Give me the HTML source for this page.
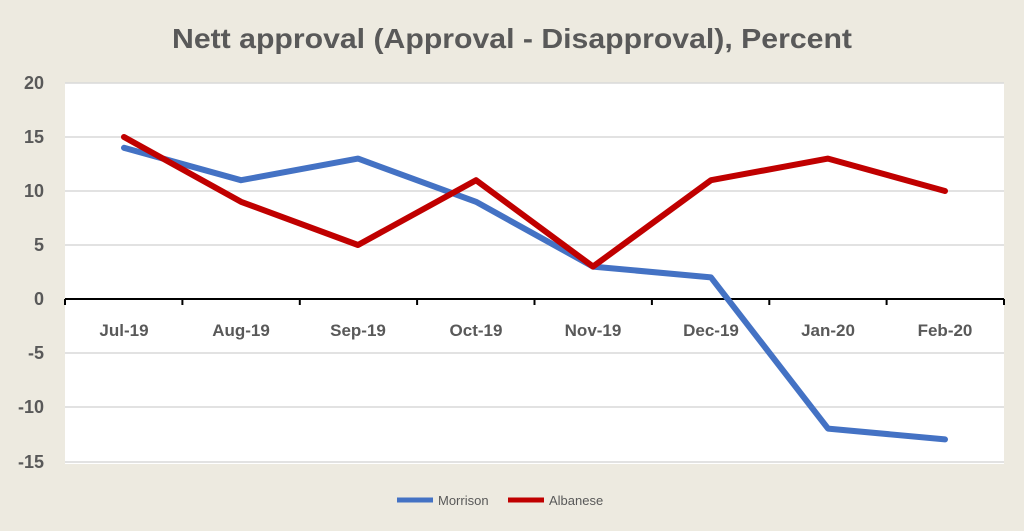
<!DOCTYPE html>
<html><head><style>body{margin:0;background:#EDEAE0;}svg{display:block}</style></head>
<body>
<svg width="1024" height="531" xmlns="http://www.w3.org/2000/svg" font-family="Liberation Sans, sans-serif">
<rect width="1024" height="531" fill="#EDEAE0"/>
<rect x="65" y="83" width="939" height="381" fill="#fff"/>
<g stroke="#D9D9D9" stroke-width="1.5">
<line x1="65" x2="1004" y1="83" y2="83"/>
<line x1="65" x2="1004" y1="137" y2="137"/>
<line x1="65" x2="1004" y1="191" y2="191"/>
<line x1="65" x2="1004" y1="245" y2="245"/>
<line x1="65" x2="1004" y1="353" y2="353"/>
<line x1="65" x2="1004" y1="407" y2="407"/>
<line x1="65" x2="1004" y1="462" y2="462"/>
</g>
<text x="512" y="48" text-anchor="middle" font-size="28" font-weight="bold" fill="#595959" textLength="680" lengthAdjust="spacingAndGlyphs">Nett approval (Approval - Disapproval), Percent</text>
<g font-size="18" font-weight="bold" fill="#595959" text-anchor="end">
<text x="44" y="89">20</text><text x="44" y="143">15</text><text x="44" y="197">10</text><text x="44" y="251">5</text><text x="44" y="305">0</text><text x="44" y="359">-5</text><text x="44" y="413">-10</text><text x="44" y="468">-15</text>
</g>
<g stroke="#000" stroke-width="2">
<line x1="65" x2="1004" y1="299" y2="299"/>
<line x1="65" x2="65" y1="299" y2="305"/><line x1="182.4" x2="182.4" y1="299" y2="305"/><line x1="299.8" x2="299.8" y1="299" y2="305"/><line x1="417.1" x2="417.1" y1="299" y2="305"/><line x1="534.5" x2="534.5" y1="299" y2="305"/><line x1="651.9" x2="651.9" y1="299" y2="305"/><line x1="769.3" x2="769.3" y1="299" y2="305"/><line x1="886.6" x2="886.6" y1="299" y2="305"/><line x1="1004" x2="1004" y1="299" y2="305"/>
</g>
<g font-size="17" font-weight="bold" fill="#595959" text-anchor="middle">
<text x="124" y="336">Jul-19</text><text x="241" y="336">Aug-19</text><text x="358" y="336">Sep-19</text><text x="476" y="336">Oct-19</text><text x="593" y="336">Nov-19</text><text x="711" y="336">Dec-19</text><text x="828" y="336">Jan-20</text><text x="945" y="336">Feb-20</text>
</g>
<polyline fill="none" stroke="#4472C4" stroke-width="6" stroke-linecap="round" stroke-linejoin="round" points="124,147.8 241,180.2 358,158.6 476,201.8 593,266.6 711,277.4 828,428.6 945,439.4"/>
<polyline fill="none" stroke="#C00000" stroke-width="6" stroke-linecap="round" stroke-linejoin="round" points="124,137 241,201.8 358,245 476,180.2 593,266.6 711,180.2 828,158.6 945,191"/>
<line x1="397" x2="433" y1="500" y2="500" stroke="#4472C4" stroke-width="5"/>
<text x="438" y="505" font-size="13" fill="#595959">Morrison</text>
<line x1="508" x2="544" y1="500" y2="500" stroke="#C00000" stroke-width="5"/>
<text x="549" y="505" font-size="13" fill="#595959">Albanese</text>
</svg>
</body></html>
